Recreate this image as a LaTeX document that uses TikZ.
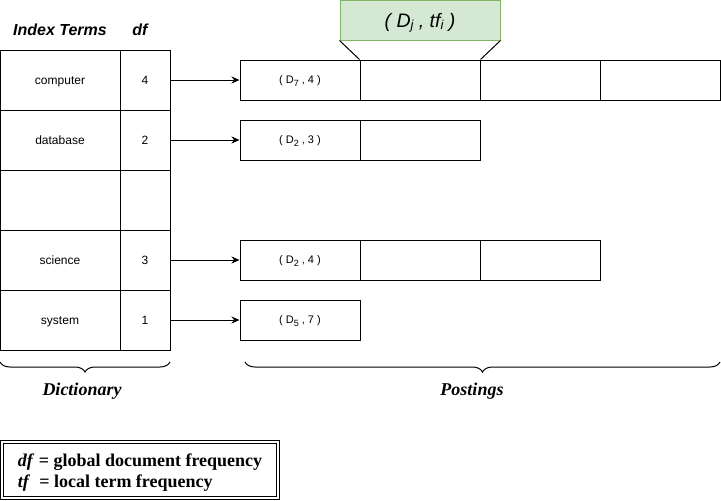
\documentclass[tikz,border=0pt]{standalone}
\usepackage{fontspec}
\setmainfont{Liberation Serif}
\setsansfont{Liberation Sans}
\usetikzlibrary{arrows.meta}
\usetikzlibrary{decorations.pathreplacing}
\definecolor{tuplefill}{HTML}{D5E8D4}
\definecolor{tupledraw}{HTML}{82B366}
\newcommand{\dsub}[1]{\raisebox{-3pt}{\fontsize{9}{9}\selectfont #1}}
\newcommand{\tsub}[1]{\raisebox{-2.7pt}{\fontsize{13}{13}\selectfont #1}}
\tikzset{
  every picture/.style={
    line width=1pt,
    >={Stealth[width=7pt, length=8pt]}
  },
  cell/.style={
    draw, minimum height=60pt, inner sep=0pt,
    text height=8.6pt, text depth=0pt,
    font=\sffamily\fontsize{12}{14}\selectfont
  },
  slot/.style={
    draw, minimum width=120pt, minimum height=40pt, inner sep=0pt,
    text height=7.9pt, text depth=0pt,
    font=\sffamily\fontsize{11}{13}\selectfont
  }
}
\begin{document}
\begin{tikzpicture}[
      x=1pt, y=-1pt,
      term/.style={cell, minimum width=120pt},
      freq/.style={cell, minimum width=50pt},
      head/.style={font=\sffamily\bfseries\itshape\fontsize{16}{18}\selectfont},
      caption/.style={font=\bfseries\itshape\fontsize{18}{21}\selectfont},
      curly/.style={decorate, decoration={brace, mirror, amplitude=10pt}}
    ]
      \useasboundingbox (0,0) rectangle (721,501);
      \node [head] (hterm) at (60,30) {Index Terms};
      \node [head] (hdf) at (140,30) {df};
      \foreach \t/\f/\y in {computer/4/80, database/2/140, science/3/260, system/1/320} {
        \node [term] (\t) at (60,\y) {\t};
        \node [freq] (\t-df) at (145,\y) {\f};
      }
      \node [term] (blank) at (60,200) {};
      \node [freq] (blank-df) at (145,200) {};
      \node [slot] (computer1) at (300,80) {( D\dsub{7} , 4 )};
      \node [slot] (computer2) at (420,80) {};
      \node [slot] (computer3) at (540,80) {};
      \node [slot] (computer4) at (660,80) {};
      \node [slot] (database1) at (300,140) {( D\dsub{2} , 3 )};
      \node [slot] (database2) at (420,140) {};
      \node [slot] (science1) at (300,260) {( D\dsub{2} , 4 )};
      \node [slot] (science2) at (420,260) {};
      \node [slot] (science3) at (540,260) {};
      \node [slot] (system1) at (300,320) {( D\dsub{5} , 7 )};
      \draw [->] (computer-df) -- (computer1);
      \draw [->] (database-df) -- (database1);
      \draw [->] (science-df) -- (science1);
      \draw [->] (system-df) -- (system1);
      \node [draw=tupledraw, fill=tuplefill, minimum width=160pt, minimum height=40pt,
        inner sep=0pt, text height=14pt, text depth=0pt,
        font=\sffamily\itshape\fontsize{19.5}{21}\selectfont] (tuple) at (420,20)
        {( D\tsub{j} , tf\tsub{i} )};
      \draw (tuple.south west) -- (computer2.north west);
      \draw (tuple.south east) -- (computer2.north east);
      \coordinate (dictL) at (0,362);
      \coordinate (dictR) at (170,362);
      \coordinate (postL) at (245,362);
      \coordinate (postR) at (720,362);
      \draw [curly] (dictL) -- (dictR);
      \draw [curly] (postL) -- (postR);
      \node [caption] (dictionary) at (82,391) {Dictionary};
      \node [caption] (postings) at (472,391) {Postings};
      \node [draw, double, double distance=2pt, minimum width=276pt, minimum height=56pt,
        align=left, font=\bfseries\fontsize{18}{21}\selectfont] (legend) at (140,470)
        {\rule{0pt}{18pt}\textit{df} = global document frequency\\\textit{tf}\ \ = local term frequency};
    \end{tikzpicture}
\end{document}
